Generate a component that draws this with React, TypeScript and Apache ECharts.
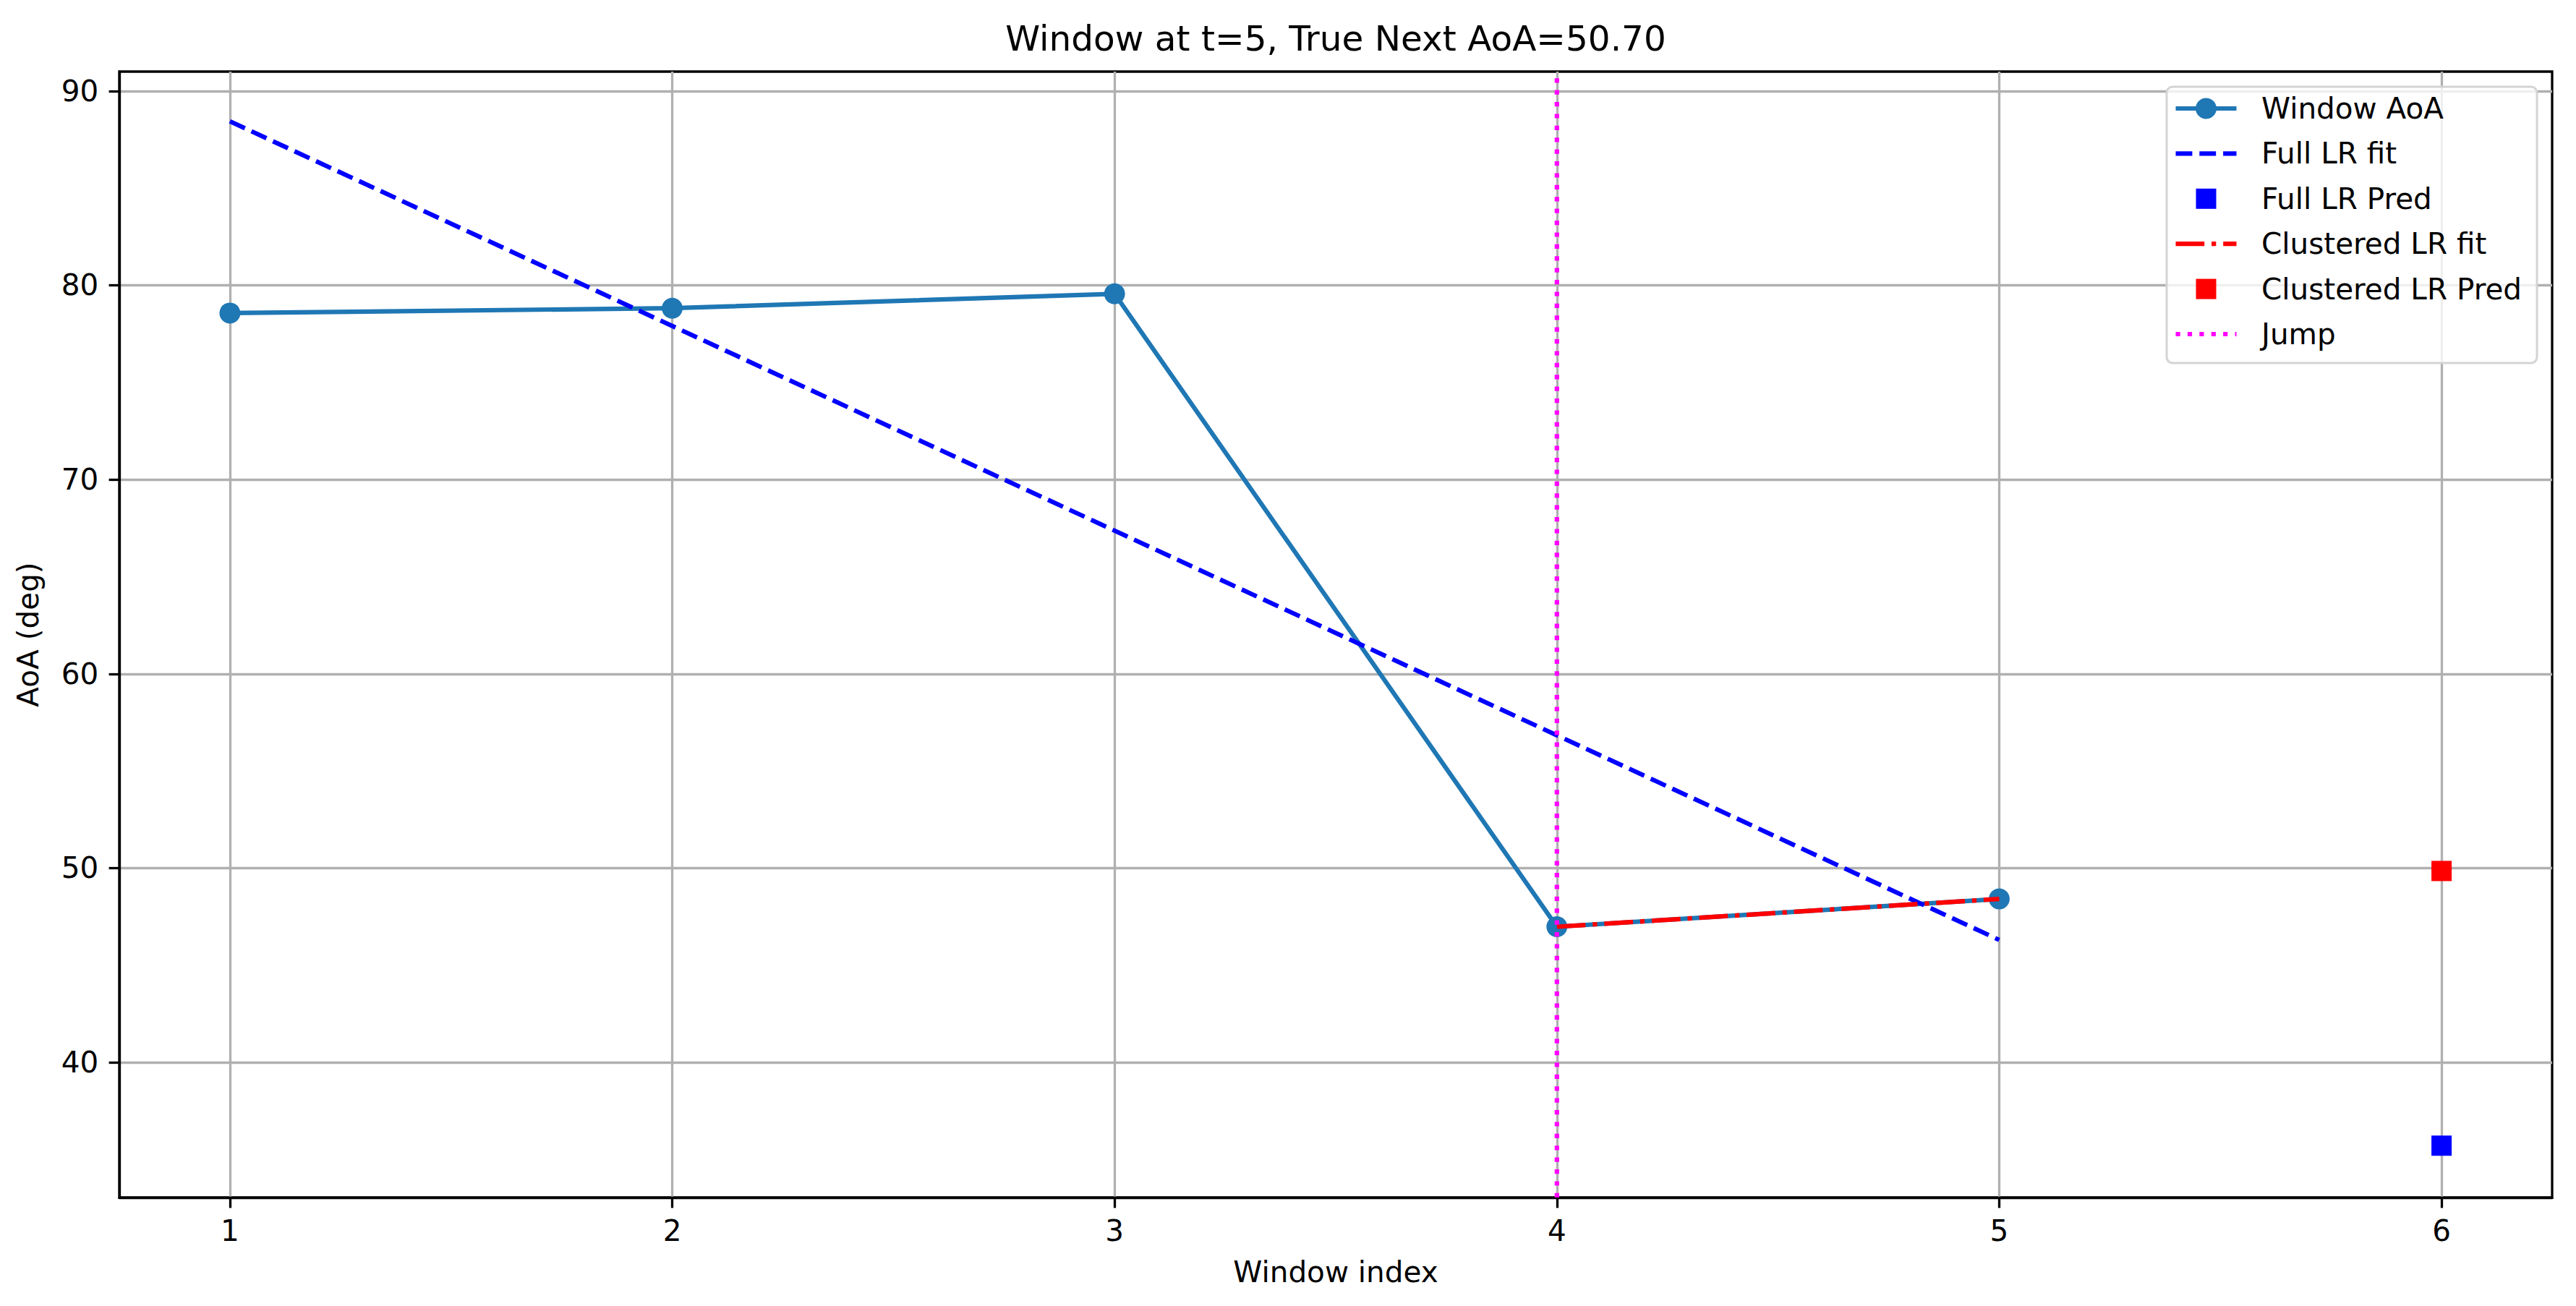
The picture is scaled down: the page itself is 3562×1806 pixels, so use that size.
import React, { useEffect, useRef } from "react";
import * as echarts from "echarts";

// ---- data ----
const windowIndex = [1, 2, 3, 4, 5];
const windowAoA = [78.57, 78.82, 79.56, 46.98, 48.41];
const fullFitX = [1, 5];
const fullFitY = [88.44, 46.3];
const predX = 6;
const fullPred = 35.71;
const clusteredFitX = [4, 5];
const clusteredFitY = [46.98, 48.41];
const clusteredPred = 49.85;
const jumpX = 4;
const xTicks = [1, 2, 3, 4, 5, 6];
const yTicks = [40, 50, 60, 70, 80, 90];
const xRange = [0.75, 6.25];
const yRange = [33.04, 91.0];
const titleText = "Window at t=5, True Next AoA=50.70";
const xLabel = "Window index";
const yLabel = "AoA (deg)";
const legendLabels = [
  "Window AoA",
  "Full LR fit",
  "Full LR Pred",
  "Clustered LR fit",
  "Clustered LR Pred",
  "Jump",
];

const FONT = "DejaVu Sans";
const C_WIN = "#1f77b4";
const C_BLUE = "#0000ff";
const C_RED = "#ff0000";
const C_MAG = "#ff00ff";
const LW = 6.2;
const DASH = [22.9, 9.9];
const DASHDOT = [39.7, 9.9, 6.2, 9.9];
const DOT = [6.2, 10.2];

export default function App() {
  const ref = useRef<HTMLDivElement>(null);

  useEffect(() => {
    if (!ref.current) return;
    const chart = echarts.init(ref.current, null, { renderer: "svg" });

    const gridL = 165;
    const gridR = 3529;
    const gridT = 99;
    const gridB = 1656;
    const W = 3562;
    const H = 1806;

    // legend graphic
    const lgX = 2996;
    const lgY = 120;
    const lgW = 512;
    const lgH = 382;
    const rowY0 = 150;
    const rowPitch = 62.4;
    const hx1 = 3008.5;
    const hx2 = 3092.5;
    const hcx = (hx1 + hx2) / 2;
    const textX = 3127;

    const legendEls: any[] = [
      {
        type: "rect",
        z: 100,
        shape: { x: lgX, y: lgY, width: lgW, height: lgH, r: 8 },
        style: { fill: "rgba(255,255,255,0.8)", stroke: "#d4d4d4", lineWidth: 3 },
      },
    ];
    const handle = (i: number) => {
      const y = rowY0 + i * rowPitch;
      const lineEl = (stroke: string, dash: number[] | null) => ({
        type: "line",
        z: 101,
        shape: { x1: hx1, y1: y, x2: hx2, y2: y },
        style: { stroke, lineWidth: LW, lineDash: dash || undefined, lineCap: "butt" },
      });
      const sq = (fill: string) => ({
        type: "rect",
        z: 101,
        shape: { x: hcx - 14, y: y - 14, width: 28, height: 28 },
        style: { fill },
      });
      switch (i) {
        case 0:
          return [
            lineEl(C_WIN, null),
            { type: "circle", z: 102, shape: { cx: hcx, cy: y, r: 14.5 }, style: { fill: C_WIN } },
          ];
        case 1:
          return [lineEl(C_BLUE, DASH)];
        case 2:
          return [sq(C_BLUE)];
        case 3:
          return [lineEl(C_RED, DASHDOT)];
        case 4:
          return [sq(C_RED)];
        default:
          return [lineEl(C_MAG, DOT)];
      }
    };
    legendLabels.forEach((label, i) => {
      const y = rowY0 + i * rowPitch;
      legendEls.push(...handle(i));
      legendEls.push({
        type: "text",
        z: 101,
        x: textX,
        y,
        style: {
          text: label,
          fontSize: 40.5,
          fontFamily: FONT,
          fill: "#000",
          align: "left",
          verticalAlign: "middle",
        },
      });
    });

    const option: any = {
      animation: false,
      backgroundColor: "#ffffff",
      grid: {
        left: gridL,
        right: W - gridR,
        top: gridT,
        bottom: H - gridB,
        show: true,
        borderColor: "#000",
        borderWidth: 3.3,
        backgroundColor: "transparent",
      },
      xAxis: {
        type: "value",
        min: xRange[0],
        max: xRange[1],
        axisLine: { show: true, onZero: false, lineStyle: { color: "#000", width: 3.3 } },
        axisTick: {
          show: true,
          inside: false,
          length: 14.4,
          customValues: xTicks,
          lineStyle: { color: "#000", width: 3.3 },
        },
        axisLabel: {
          show: true,
          customValues: xTicks,
          margin: 25.5,
          fontSize: 40.5,
          fontFamily: FONT,
          color: "#000",
        },
        splitLine: { show: true, lineStyle: { color: "#b0b0b0", width: 3.3 } },
      },
      yAxis: {
        type: "value",
        min: yRange[0],
        max: yRange[1],
        axisLine: { show: true, onZero: false, lineStyle: { color: "#000", width: 3.3 } },
        axisTick: {
          show: true,
          inside: false,
          length: 14.4,
          customValues: yTicks,
          lineStyle: { color: "#000", width: 3.3 },
        },
        axisLabel: {
          show: true,
          customValues: yTicks,
          margin: 28.8,
          fontSize: 40.5,
          fontFamily: FONT,
          color: "#000",
        },
        splitLine: { show: true, lineStyle: { color: "#b0b0b0", width: 3.3 } },
      },
      series: [
        {
          name: legendLabels[0],
          type: "line",
          data: windowIndex.map((x, i) => [x, windowAoA[i]]),
          symbol: "circle",
          symbolSize: 29,
          showSymbol: true,
          itemStyle: { color: C_WIN, opacity: 1 },
          lineStyle: { color: C_WIN, width: LW },
          silent: true,
          z: 2,
        },
        {
          name: legendLabels[1],
          type: "line",
          data: fullFitX.map((x, i) => [x, fullFitY[i]]),
          symbol: "none",
          lineStyle: { color: C_BLUE, width: LW, type: DASH, cap: "butt" },
          silent: true,
          z: 3,
        },
        {
          name: legendLabels[2],
          type: "scatter",
          data: [[predX, fullPred]],
          symbol: "rect",
          symbolSize: 28,
          itemStyle: { color: C_BLUE, opacity: 1 },
          silent: true,
          z: 4,
        },
        {
          name: legendLabels[3],
          type: "line",
          data: clusteredFitX.map((x, i) => [x, clusteredFitY[i]]),
          symbol: "none",
          lineStyle: { color: C_RED, width: LW, type: DASHDOT, cap: "butt" },
          silent: true,
          z: 5,
        },
        {
          name: legendLabels[4],
          type: "scatter",
          data: [[predX, clusteredPred]],
          symbol: "rect",
          symbolSize: 28,
          itemStyle: { color: C_RED, opacity: 1 },
          silent: true,
          z: 6,
        },
        {
          name: legendLabels[5],
          type: "line",
          data: [
            [jumpX, yRange[0]],
            [jumpX, yRange[1]],
          ],
          symbol: "none",
          lineStyle: { color: C_MAG, width: LW, type: DOT, cap: "butt" },
          silent: true,
          z: 7,
        },
      ],
      graphic: [
        {
          type: "text",
          z: 100,
          x: (gridL + gridR) / 2,
          y: 53,
          style: {
            text: titleText,
            fontSize: 48.5,
            fontFamily: FONT,
            fill: "#000",
            align: "center",
            verticalAlign: "middle",
          },
        },
        {
          type: "text",
          z: 100,
          x: (gridL + gridR) / 2,
          y: 1759,
          style: {
            text: xLabel,
            fontSize: 40.5,
            fontFamily: FONT,
            fill: "#000",
            align: "center",
            verticalAlign: "middle",
          },
        },
        {
          type: "text",
          z: 100,
          x: 39,
          y: (gridT + gridB) / 2,
          rotation: Math.PI / 2,
          style: {
            text: yLabel,
            fontSize: 40.5,
            fontFamily: FONT,
            fill: "#000",
            align: "center",
            verticalAlign: "middle",
          },
        },
        ...legendEls,
      ],
    };

    chart.setOption(option);
    return () => chart.dispose();
  }, []);

  return (
    <div
      ref={ref}
      style={{
        position: "fixed",
        left: 0,
        top: 0,
        width: 3562,
        height: 1806,
        background: "#fff",
      }}
    />
  );
}
